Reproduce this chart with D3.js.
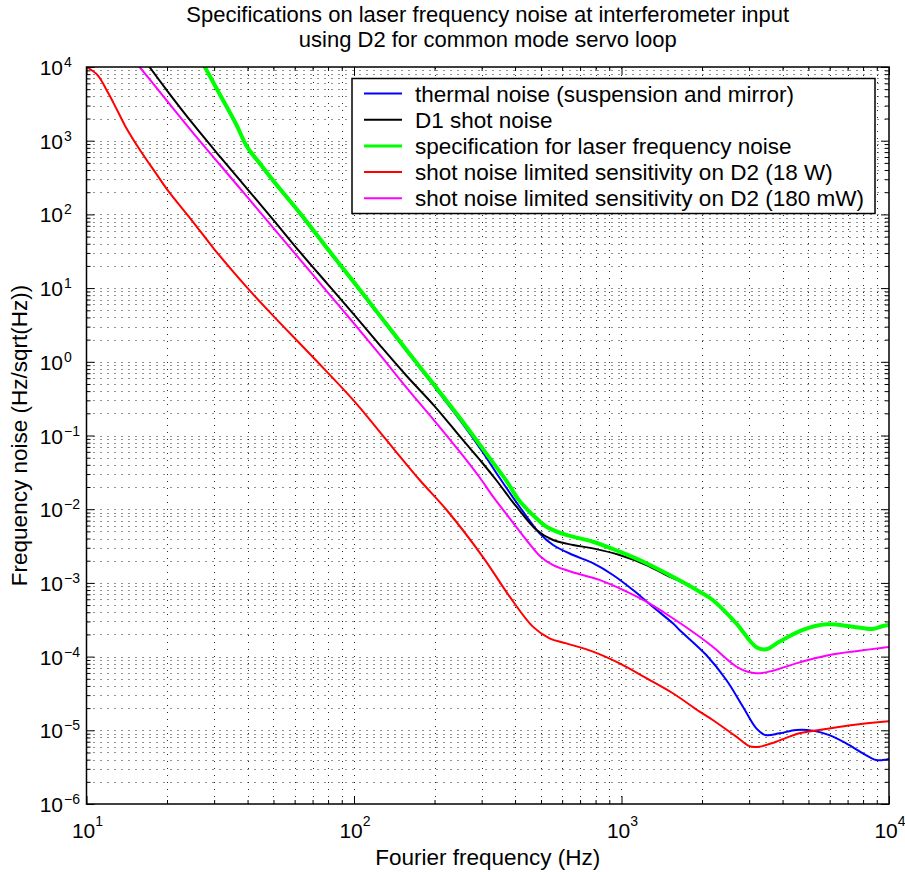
<!DOCTYPE html>
<html>
<head>
<meta charset="utf-8">
<script src="https://cdn.jsdelivr.net/npm/d3@7"></script>
<style>
  html, body { margin: 0; padding: 0; background: #fff; }
  svg { display: block; }
  text { font-family: "Liberation Sans", Arial, Helvetica, sans-serif; fill: #000; }
</style>
</head>
<body>
<svg id="chart" width="905" height="872"></svg>
<script>
// ---------------- data ----------------
const titleLines = ["Specifications on laser frequency noise at interferometer input",
                    "using D2 for common mode servo loop"];
const xLabel = "Fourier frequency (Hz)";
const yLabel = "Frequency noise (Hz/sqrt(Hz))";
const xTickExponents = [1, 2, 3, 4];
const yTickExponents = [4, 3, 2, 1, 0, -1, -2, -3, -4, -5, -6];
const seriesNames = ["thermal noise (suspension and mirror)", "D1 shot noise",
  "specification for laser frequency noise", "shot noise limited sensitivity on D2 (18 W)",
  "shot noise limited sensitivity on D2 (180 mW)"];

// thermal noise (suspension and mirror)
const thermalF = [27.7, 31.6, 36.3, 39.8, 44.7, 50.1, 63.1, 79.4, 100, 126, 158, 200, 251, 302, 351, 416, 494, 555, 659, 782, 929, 1104, 1309, 1556, 1648, 2075, 2466, 2844, 3192, 3451, 3899, 4498, 5188, 5984, 6918, 7980, 8954, 9484, 10000];
const thermalV = [1e4, 4.03e3, 1.60e3, 807, 463, 274, 98.9, 33.5, 11.6, 3.94, 1.36, 0.457, 0.155, 0.0603, 0.0263, 0.0108, 4.71e-3, 3.27e-3, 2.39e-3, 1.85e-3, 1.28e-3, 8.0e-4, 4.75e-4, 2.83e-4, 2.30e-4, 1.05e-4, 4.82e-5, 2.09e-5, 1.06e-5, 8.6e-6, 9.1e-6, 1.01e-5, 9.9e-6, 8.6e-6, 6.65e-6, 4.88e-6, 3.95e-6, 3.95e-6, 4.07e-6];

// D1 shot noise
const d1F = [17.2, 20, 25.1, 31.6, 39.8, 50.1, 63.1, 79.4, 100, 126, 158, 200, 251, 300, 340, 387, 405, 481, 555, 659, 782, 984, 1239, 1469, 1750, 2000];
const d1V = [1e4, 4.79e3, 1.66e3, 603, 224, 83.2, 30.2, 11.5, 4.37, 1.62, 0.631, 0.251, 0.0933, 0.0437, 0.0249, 0.0133, 0.0108, 5.22e-3, 3.82e-3, 3.27e-3, 2.94e-3, 2.39e-3, 1.75e-3, 1.28e-3, 9.55e-4, 7.24e-4];

// specification for laser frequency noise
const specF = [27.7, 31.6, 36.3, 39.8, 44.7, 50.1, 63.1, 79.4, 100, 126, 158, 200, 251, 316, 372, 410, 441, 479, 524, 622, 782, 984, 1239, 1556, 1959, 2193, 2685, 3192, 3475, 3899, 4764, 5821, 7311, 8690, 9484, 10000];
const specV = [1e4, 4.17e3, 1.66e3, 832, 479, 282, 102, 34.7, 12.0, 4.07, 1.41, 0.479, 0.166, 0.0537, 0.024, 0.0138, 0.0102, 7.59e-3, 5.79e-3, 4.47e-3, 3.62e-3, 2.65e-3, 1.85e-3, 1.21e-3, 7.6e-4, 5.86e-4, 2.83e-4, 1.34e-4, 1.26e-4, 1.6e-4, 2.30e-4, 2.74e-4, 2.55e-4, 2.37e-4, 2.60e-4, 2.69e-4];

// shot noise limited sensitivity on D2 (18 W)
const d2HighF = [10, 11, 12, 13, 14, 16, 18, 20, 25, 30, 40, 50, 70, 100, 130, 176, 222, 303, 382, 466, 538, 622, 782, 984, 1239, 1556, 1959, 2193, 2685, 3006, 3281, 3784, 4624, 5984, 7311, 9484, 10000];
const d2HighV = [1e4, 7.76e3, 4.57e3, 2.63e3, 1.55e3, 708, 380, 219, 79.4, 33.9, 10, 4.17, 1.17, 0.295, 0.0933, 0.0249, 9.75e-3, 2.26e-3, 6.5e-4, 2.55e-4, 1.77e-4, 1.51e-4, 1.17e-4, 8.1e-5, 5.1e-5, 3.18e-5, 1.79e-5, 1.38e-5, 8.2e-6, 6.1e-6, 6.0e-6, 7.0e-6, 9.1e-6, 1.06e-5, 1.18e-5, 1.31e-5, 1.33e-5];

// shot noise limited sensitivity on D2 (180 mW)
const d2LowF = [15.8, 20, 25.1, 31.6, 39.8, 50.1, 63.1, 79.4, 100, 126, 158, 200, 251, 295, 331, 372, 441, 494, 555, 678, 828, 984, 1239, 1556, 1959, 2193, 2761, 3192, 3681, 4498, 5984, 7745, 9484, 10000];
const d2LowV = [1e4, 3.47e3, 1.26e3, 468, 174, 64.6, 24.0, 8.91, 3.31, 1.20, 0.437, 0.158, 0.0575, 0.0269, 0.0148, 8.5e-3, 3.82e-3, 2.34e-3, 1.74e-3, 1.35e-3, 1.10e-3, 8.43e-4, 5.56e-4, 3.31e-4, 1.86e-4, 1.36e-4, 6.9e-5, 5.93e-5, 6.44e-5, 8.1e-5, 1.05e-4, 1.20e-4, 1.32e-4, 1.35e-4];

const seriesColors = ["#0000ff", "#000000", "#00ff00", "#ff0000", "#ff00ff"];
const seriesWidths = [2, 2, 4, 2, 2];

// ---------------- layout ----------------
const svg = d3.select("#chart");
const L = 86.5, R = 889, T = 67, B = 804;
const FS = 22.5;
const x = d3.scaleLog().domain([10, 1e4]).range([L, R]);
const y = d3.scaleLog().domain([1e-6, 1e4]).range([B, T]);

const xTicksAll = [];
for (let e = 1; e < 4; e++) for (let k = 1; k < 10; k++) xTicksAll.push(k * Math.pow(10, e));
xTicksAll.push(1e4);
const yTicksAll = [];
for (let e = -6; e < 4; e++) for (let k = 1; k < 10; k++) yTicksAll.push(k * Math.pow(10, e));
yTicksAll.push(1e4);
const isMajor = v => Math.abs(Math.log10(v) - Math.round(Math.log10(v))) < 1e-9;

// grid (dotted)
const grid = svg.append("g").attr("stroke", "#000").attr("stroke-width", 1)
  .attr("stroke-dasharray", "1,6").attr("opacity", 0.85);
xTicksAll.filter(v => v > 10 && v < 1e4).forEach(v => {
  const px = Math.round(x(v)) + 0.5;
  grid.append("line").attr("x1", px).attr("x2", px).attr("y1", B).attr("y2", T);
});
yTicksAll.filter(v => v > 1e-6 && v < 1e4).forEach(v => {
  const py = Math.round(y(v)) + 0.5;
  grid.append("line").attr("y1", py).attr("y2", py).attr("x1", L).attr("x2", R);
});

// curves
svg.append("clipPath").attr("id", "clip").append("rect")
  .attr("x", L).attr("y", T).attr("width", R - L).attr("height", B - T);
const seriesF = [thermalF, d1F, specF, d2HighF, d2LowF];
const seriesV = [thermalV, d1V, specV, d2HighV, d2LowV];
const line = d3.line().x(d => x(d[0])).y(d => y(d[1])).curve(d3.curveCatmullRom.alpha(0.5));
const curves = svg.append("g").attr("clip-path", "url(#clip)");
seriesF.forEach((fs, i) => {
  const pts = fs.map((f, j) => [f, seriesV[i][j]]);
  curves.append("path").attr("d", line(pts)).attr("fill", "none")
    .attr("stroke", seriesColors[i]).attr("stroke-width", seriesWidths[i])
    .attr("stroke-linejoin", "round").attr("stroke-linecap", "round");
});

// axes via d3 axis generators (ticks inside, on all four sides)
function tickLen(v) { return isMajor(v) ? 8 : 4; }
function drawAxis(gen, tx, ty) {
  const g = svg.append("g").attr("transform", `translate(${tx},${ty})`).call(gen);
  g.select(".domain").remove();
  g.selectAll("text").remove();
  g.selectAll(".tick line").attr("stroke", "#000").attr("stroke-width", 1);
  return g;
}
drawAxis(d3.axisBottom(x).tickValues(xTicksAll).tickSize(0), 0, B)
  .selectAll(".tick line").attr("y2", d => -tickLen(d));
drawAxis(d3.axisTop(x).tickValues(xTicksAll).tickSize(0), 0, T)
  .selectAll(".tick line").attr("y2", d => tickLen(d));
drawAxis(d3.axisLeft(y).tickValues(yTicksAll).tickSize(0), L, 0)
  .selectAll(".tick line").attr("x2", d => tickLen(d));
drawAxis(d3.axisRight(y).tickValues(yTicksAll).tickSize(0), R, 0)
  .selectAll(".tick line").attr("x2", d => -tickLen(d));

// frame
svg.append("rect").attr("x", L).attr("y", T).attr("width", R - L).attr("height", B - T)
  .attr("fill", "none").attr("stroke", "#000").attr("stroke-width", 1.5);

// tick labels
const expText = e => (e < 0 ? "\u2212" + Math.abs(e) : String(e));
yTickExponents.forEach(e => {
  const yy = y(Math.pow(10, e));
  svg.append("text").attr("x", 63).attr("y", yy + 8).attr("text-anchor", "end")
    .attr("font-size", 21).text("10");
  svg.append("text").attr("x", 64).attr("y", yy).attr("font-size", 14).text(expText(e));
});
xTickExponents.forEach(e => {
  const t = svg.append("text").attr("x", x(Math.pow(10, e)) + 1).attr("y", 838)
    .attr("text-anchor", "middle");
  t.append("tspan").attr("font-size", 21).text("10");
  t.append("tspan").attr("font-size", 14).attr("dy", -12).text(expText(e));
});

// axis labels
svg.append("text").attr("x", (L + R) / 2).attr("y", 865).attr("text-anchor", "middle")
  .attr("font-size", FS).text(xLabel);
svg.append("text").attr("transform", `translate(27,${(T + B) / 2}) rotate(-90)`)
  .attr("text-anchor", "middle").attr("font-size", FS).text(yLabel);

// title
titleLines.forEach((t, i) => {
  svg.append("text").attr("x", (L + R) / 2).attr("y", 22 + i * 24.5)
    .attr("text-anchor", "middle").attr("font-size", 22).text(t);
});

// legend
const lg = svg.append("g");
lg.append("rect").attr("x", 352).attr("y", 78.5).attr("width", 523).attr("height", 135)
  .attr("fill", "#fff").attr("stroke", "#000").attr("stroke-width", 1.5);
seriesNames.forEach((n, i) => {
  const ry = 93.5 + i * 26.2;
  lg.append("line").attr("x1", 364).attr("x2", 402).attr("y1", ry).attr("y2", ry)
    .attr("stroke", seriesColors[i]).attr("stroke-width", seriesWidths[i] === 4 ? 3 : 2);
  lg.append("text").attr("x", 415).attr("y", ry + 8).attr("font-size", FS).text(n);
});
</script>
</body>
</html>
